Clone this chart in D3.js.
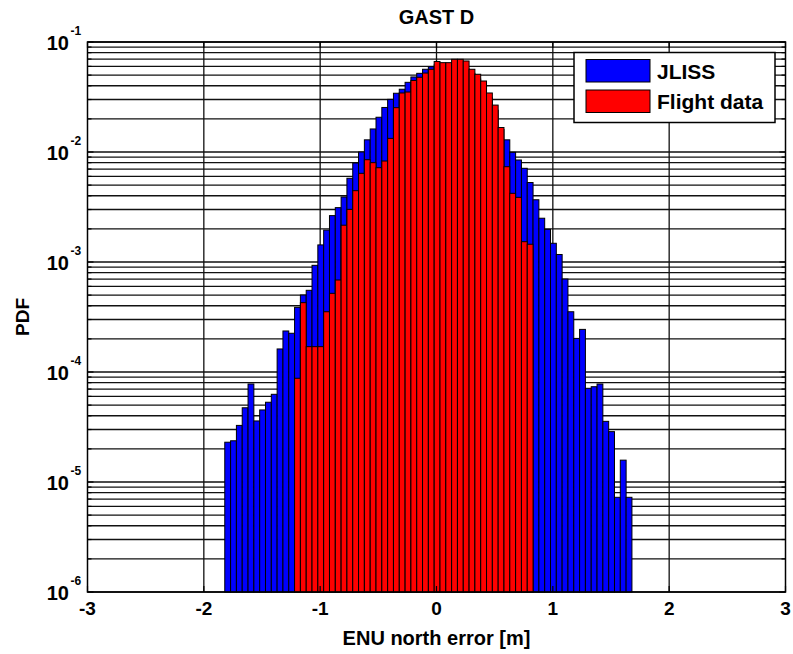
<!DOCTYPE html>
<html>
<head>
<meta charset="utf-8">
<script src="https://cdn.jsdelivr.net/npm/d3@7"></script>
<style>
  html, body { margin: 0; padding: 0; background: #fff; }
  svg { display: block; font-family: "Liberation Sans", Arial, sans-serif; font-weight: bold; }
</style>
</head>
<body>
<svg id="chart" width="793" height="654"></svg>
<script>
// Histogram bin centres (m), bin width 0.05 m
const binCenters = [
  -1.795, -1.745, -1.695, -1.645, -1.595, -1.545, -1.495, -1.445, -1.395, -1.345,
  -1.295, -1.245, -1.195, -1.145, -1.095, -1.045, -0.995, -0.945, -0.895, -0.845,
  -0.795, -0.745, -0.695, -0.645, -0.595, -0.545, -0.495, -0.445, -0.395, -0.345,
  -0.295, -0.245, -0.195, -0.145, -0.095, -0.045, 0.005, 0.055, 0.105, 0.155,
  0.205, 0.255, 0.305, 0.355, 0.405, 0.455, 0.505, 0.555, 0.605, 0.655,
  0.705, 0.755, 0.805, 0.855, 0.905, 0.955, 1.005, 1.055, 1.105, 1.155,
  1.205, 1.255, 1.305, 1.355, 1.405, 1.455, 1.505, 1.555, 1.605, 1.655
];
const binWidth = 0.05;

// JLISS simulated PDF
const jliss = [
  2.30e-5, 2.37e-5, 3.27e-5, 4.73e-5, 7.78e-5, 3.59e-5, 4.52e-5, 5.31e-5, 6.27e-5, 1.62e-4,
  2.36e-4, 2.25e-4, 3.87e-4, 5.01e-4, 5.53e-4, 9.33e-4, 1.43e-3, 1.95e-3, 2.64e-3, 3.12e-3,
  3.90e-3, 5.77e-3, 7.94e-3, 1.00e-2, 1.29e-2, 1.62e-2, 2.07e-2, 2.54e-2, 3.01e-2, 3.42e-2,
  3.72e-2, 4.30e-2, 4.81e-2, 5.19e-2, 5.65e-2, 5.96e-2, 6.20e-2, 6.30e-2, 6.30e-2, 6.20e-2,
  6.00e-2, 5.70e-2, 5.20e-2, 4.60e-2, 3.90e-2, 3.10e-2, 2.40e-2, 1.60e-2, 1.29e-2, 9.93e-3,
  8.46e-3, 7.11e-3, 5.28e-3, 3.68e-3, 2.50e-3, 1.98e-3, 1.48e-3, 1.17e-3, 7.00e-4, 3.53e-4,
  2.02e-4, 2.44e-4, 7.11e-5, 7.35e-5, 7.78e-5, 3.56e-5, 2.87e-5, 7.26e-6, 1.58e-5, 7.26e-6
];

// Flight data PDF (null where the bin is empty)
const flight = [
  null, null, null, null, null, null, null, null, null, null,
  null, null, 8.77e-5, 4.27e-4, 1.70e-4, 1.70e-4, 1.70e-4, 3.53e-4, 5.19e-4, 6.86e-4,
  2.16e-3, 3.01e-3, 4.45e-3, 6.40e-3, 8.51e-3, 8.00e-3, 7.20e-3, 8.28e-3, 1.33e-2, 2.53e-2,
  3.44e-2, 3.51e-2, 4.47e-2, 4.78e-2, 5.22e-2, 5.65e-2, 6.65e-2, 6.49e-2, 6.49e-2, 6.96e-2,
  6.96e-2, 6.72e-2, 5.65e-2, 5.09e-2, 4.42e-2, 3.44e-2, 2.67e-2, 1.67e-2, 7.35e-3, 4.21e-3,
  3.87e-3, 1.53e-3, 1.45e-3, null, null, null, null, null, null, null,
  null, null, null, null, null, null, null, null, null, null
];

const xTicks = [-3, -2, -1, 0, 1, 2, 3];
const yDecades = [-6, -5, -4, -3, -2, -1];
const seriesNames = ["JLISS", "Flight data"];
const seriesColors = ["#0000ff", "#ff0000"];

const svg = d3.select("#chart");
const plot = { left: 87.5, right: 785.5, top: 42, bottom: 592 };

const x = d3.scaleLinear().domain([-3, 3]).range([plot.left, plot.right]);
const y = d3.scaleLog().domain([1e-6, 1e-1]).range([plot.bottom, plot.top]);

// grid: vertical at integer x, horizontal at every 1..9 x 10^k
const minorVals = [];
yDecades.slice(0, -1).forEach(e => {
  for (let m = 1; m <= 9; m++) minorVals.push(m * Math.pow(10, e));
});
minorVals.push(1e-1);

const grid = svg.append("g").attr("stroke", "#111").attr("stroke-width", 1.3);
grid.selectAll("line.h").data(minorVals).join("line")
  .attr("x1", plot.left).attr("x2", plot.right)
  .attr("y1", d => y(d)).attr("y2", d => y(d));
grid.selectAll("line.v").data(xTicks.slice(1, -1)).join("line")
  .attr("x1", d => x(d)).attr("x2", d => x(d))
  .attr("y1", plot.top).attr("y2", plot.bottom);

// bars
function drawBars(values, color) {
  const data = binCenters.map((c, i) => ({ c, v: values[i] })).filter(d => d.v != null);
  svg.append("g").selectAll("rect").data(data).join("rect")
    .attr("x", d => x(d.c - binWidth / 2))
    .attr("width", d => x(d.c + binWidth / 2) - x(d.c - binWidth / 2))
    .attr("y", d => y(d.v))
    .attr("height", d => plot.bottom - y(d.v))
    .attr("fill", color)
    .attr("stroke", "#000")
    .attr("stroke-width", 1);
}
drawBars(jliss, seriesColors[0]);
drawBars(flight, seriesColors[1]);

// axes box
svg.append("rect")
  .attr("x", plot.left).attr("y", plot.top)
  .attr("width", plot.right - plot.left).attr("height", plot.bottom - plot.top)
  .attr("fill", "none").attr("stroke", "#000").attr("stroke-width", 1.5);

// inner ticks on all four sides
const tickG = svg.append("g").attr("stroke", "#000").attr("stroke-width", 1.2);
minorVals.forEach(v => {
  const len = Number.isInteger(Math.log10(v)) ? 6 : 4;
  tickG.append("line").attr("x1", plot.left).attr("x2", plot.left + len).attr("y1", y(v)).attr("y2", y(v));
  tickG.append("line").attr("x1", plot.right).attr("x2", plot.right - len).attr("y1", y(v)).attr("y2", y(v));
});
xTicks.forEach(t => {
  tickG.append("line").attr("x1", x(t)).attr("x2", x(t)).attr("y1", plot.bottom).attr("y2", plot.bottom - 6);
  tickG.append("line").attr("x1", x(t)).attr("x2", x(t)).attr("y1", plot.top).attr("y2", plot.top + 6);
});

// x tick labels
svg.append("g").selectAll("text").data(xTicks).join("text")
  .attr("x", d => x(d)).attr("y", plot.bottom + 23)
  .attr("text-anchor", "middle").attr("font-size", 19)
  .text(d => d);

// y tick labels 10^k
const yl = svg.append("g");
yDecades.forEach(e => {
  const yy = y(Math.pow(10, e));
  yl.append("text").attr("x", 69).attr("y", yy + 8)
    .attr("text-anchor", "end").attr("font-size", 20).text("10");
  yl.append("text").attr("x", 70.5).attr("y", yy - 7)
    .attr("font-size", 12).text(e);
});

// title and axis labels
svg.append("text").attr("x", x(0)).attr("y", 24).attr("text-anchor", "middle")
  .attr("font-size", 20).text("GAST D");
svg.append("text").attr("x", x(0)).attr("y", 645).attr("text-anchor", "middle")
  .attr("font-size", 20).text("ENU north error [m]");
svg.append("text").attr("transform", `translate(29, ${(plot.top + plot.bottom) / 2}) rotate(-90)`)
  .attr("text-anchor", "middle").attr("font-size", 19).text("PDF");

// legend
const lg = svg.append("g");
lg.append("rect").attr("x", 574).attr("y", 52.5).attr("width", 201).attr("height", 70)
  .attr("fill", "#fff").attr("stroke", "#000").attr("stroke-width", 1.5);
seriesNames.forEach((name, i) => {
  const top = 59.5 + i * 30.5;
  lg.append("rect").attr("x", 586).attr("y", top).attr("width", 64).attr("height", 22.5)
    .attr("fill", seriesColors[i]).attr("stroke", "#000").attr("stroke-width", 1);
  lg.append("text").attr("x", 657).attr("y", top + 19).attr("font-size", 21).text(name);
});
</script>
</body>
</html>
